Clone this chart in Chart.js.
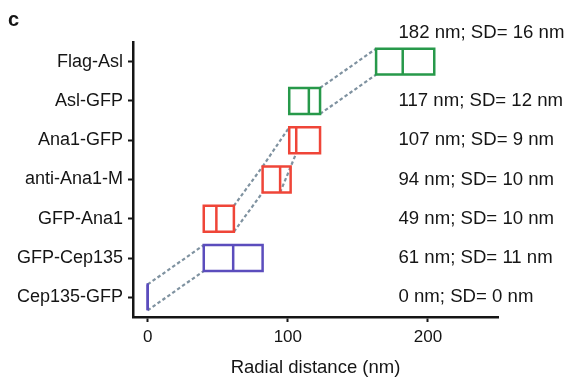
<!DOCTYPE html>
<html lang="en">
<head>
<meta charset="UTF-8">
<title>Radial distance</title>
<script src="https://cdn.jsdelivr.net/npm/chart.js"></script>
<style>
  body { margin: 0; background: #fff; }
</style>
</head>
<body>
<canvas id="radialChart" width="579" height="386"></canvas>
<script>
// rows, top to bottom
const rowLabels = ['Flag-Asl', 'Asl-GFP', 'Ana1-GFP', 'anti-Ana1-M', 'GFP-Ana1', 'GFP-Cep135', 'Cep135-GFP'];
// box edges and middle line (nm)
const boxLow = [163, 101, 101, 82, 40, 40, 0];
const boxMid = [182, 115, 106, 94.5, 49, 61, 0];
const boxHigh = [204.5, 123, 123, 102, 61.5, 82, 0];
// numbers printed on the right
const meanNm = [182, 117, 107, 94, 49, 61, 0];
const sdNm = [16, 12, 9, 10, 10, 11, 0];
const xTicks = [0, 100, 200];

// dashed links between boxes (edge -1 = top of box, 1 = bottom)
const linkFromRow = [6, 6, 4, 4, 3, 3, 1, 1];
const linkFromX = [0, 0, 61.5, 61.5, 82, 94.5, 123, 123];
const linkToRow = [5, 5, 3, 3, 2, 2, 0, 0];
const linkToX = [40, 40, 82, 82, 101, 106, 163, 163];
const linkEdge = [-1, 1, -1, 1, -1, 1, -1, 1];

const GREEN = '#27994a';
const RED = '#ef4538';
const PURPLE = '#5b4dbd';
const boxColors = [GREEN, GREEN, RED, RED, RED, PURPLE, PURPLE];
const INK = '#151515';
const HALF = 0.33; // half box height in row units

Chart.defaults.font.family = '"Liberation Sans", Arial, Helvetica, sans-serif';
Chart.defaults.color = INK;

const datasets = [];
rowLabels.forEach((name, i) => {
    const top = i - HALF, bot = i + HALF;
    datasets.push({
        label: name,
        data: [
            {x: boxLow[i], y: top}, {x: boxHigh[i], y: top},
            {x: boxHigh[i], y: bot}, {x: boxLow[i], y: bot}, {x: boxLow[i], y: top}
        ],
        borderColor: boxColors[i],
        borderWidth: 2.5,
        borderJoinStyle: 'miter',
        borderCapStyle: 'square'
    });
    datasets.push({
        label: name + ' mid',
        data: [{x: boxMid[i], y: top}, {x: boxMid[i], y: bot}],
        borderColor: boxColors[i],
        borderWidth: 2.5
    });
});
linkFromRow.forEach((r, k) => {
    datasets.push({
        label: 'link ' + k,
        data: [
            {x: linkFromX[k], y: r + linkEdge[k] * HALF},
            {x: linkToX[k], y: linkToRow[k] + linkEdge[k] * HALF}
        ],
        borderColor: '#7f92a0',
        borderWidth: 2.2,
        borderDash: [3.5, 2.5]
    });
});
datasets.forEach(d => {
    d.showLine = true;
    d.pointRadius = 0;
    d.fill = false;
    d.tension = 0;
});

const textPlugin = {
    id: 'sideText',
    afterDraw(chart) {
        const {ctx, scales: {x, y}} = chart;
        ctx.save();
        ctx.fillStyle = INK;
        ctx.font = '18.6px "Liberation Sans", Arial, sans-serif';
        ctx.textBaseline = 'middle';
        ctx.textAlign = 'left';
        meanNm.forEach((m, i) => {
            // the top label sits above its box
            const row = i === 0 ? i - 0.72 : i;
            ctx.fillText(`${m} nm; SD= ${sdNm[i]} nm`, x.getPixelForValue(179), y.getPixelForValue(row));
        });
        ctx.font = 'bold 20px "Liberation Sans", Arial, sans-serif';
        ctx.fillText('c', 8, 20);
        ctx.restore();
    }
};

new Chart(document.getElementById('radialChart'), {
    type: 'scatter',
    data: { datasets },
    options: {
        responsive: false,
        animation: false,
        layout: { padding: { left: 0, top: 42, right: 81, bottom: 0 } },
        plugins: { legend: { display: false }, tooltip: { enabled: false } },
        scales: {
            x: {
                type: 'linear',
                min: -10.5,
                max: 250,
                afterBuildTicks: axis => { axis.ticks = xTicks.map(v => ({value: v})); },
                afterFit: axis => { axis.height = 69; },
                grid: { display: true, drawOnChartArea: false, tickLength: 5, tickWidth: 2, tickColor: INK },
                border: { display: true, color: INK, width: 2.5 },
                ticks: { font: { size: 17 }, padding: 5, color: INK },
                title: { display: true, text: 'Radial distance (nm)', font: { size: 18.5 }, color: INK, padding: { top: 0, bottom: 7 } }
            },
            y: {
                type: 'linear',
                min: -0.5,
                max: 6.5,
                reverse: true,
                afterBuildTicks: axis => { axis.ticks = rowLabels.map((_, i) => ({value: i})); },
                afterFit: axis => { axis.width = 133; },
                grid: { display: true, drawOnChartArea: false, tickLength: 5, tickWidth: 2, tickColor: INK },
                border: { display: true, color: INK, width: 2.5 },
                ticks: { font: { size: 18 }, padding: 5, color: INK, callback: v => rowLabels[v] }
            }
        }
    },
    plugins: [textPlugin]
});
</script>
</body>
</html>
